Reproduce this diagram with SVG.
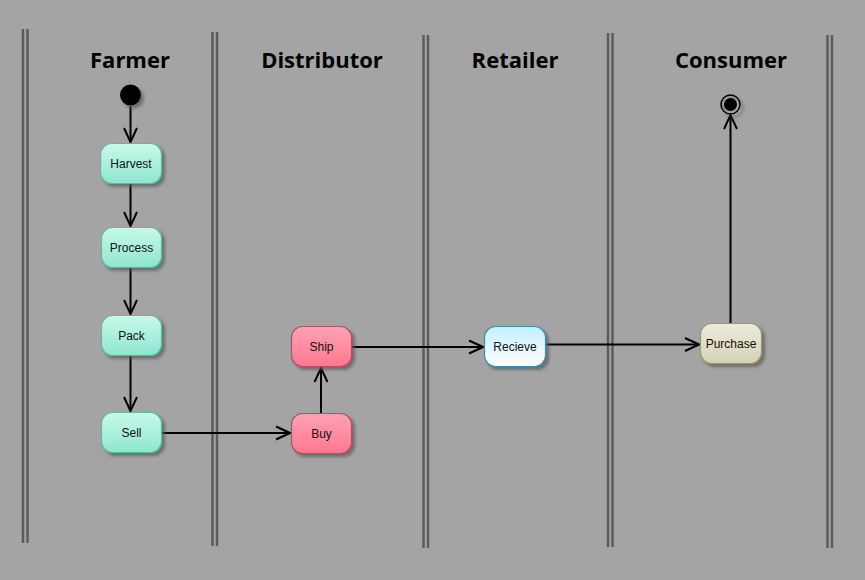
<svg xmlns="http://www.w3.org/2000/svg" width="865" height="580" viewBox="0 0 865 580">
<defs>
<style>
.lane{stroke:#5c5c5c;stroke-width:2.5;fill:none}
.title{font-family:"Open Sans","Noto Sans",sans-serif;font-weight:bold;font-size:22px;fill:#000;text-anchor:middle}
.lbl{font-family:"Liberation Sans",Arial,sans-serif;font-size:12px;fill:#111;text-anchor:middle}
.edge{stroke:#000;stroke-width:2;fill:none;marker-end:url(#arr)}
.farm{fill:url(#gGreen);stroke:#5fb8a0;stroke-width:1.2}
.dist{fill:url(#gPink);stroke:#b0506a;stroke-width:1.2}
.ret{fill:url(#gBlue);stroke:#3a90b0;stroke-width:1.2}
.cons{fill:url(#gTan);stroke:#9a9874;stroke-width:1.2}
</style>
<linearGradient id="gGreen" x1="0" y1="0" x2="0" y2="1"><stop offset="0" stop-color="#c8faea"/><stop offset="1" stop-color="#8ee6cf"/></linearGradient>
<linearGradient id="gPink" x1="0" y1="0" x2="0" y2="1"><stop offset="0" stop-color="#ffa2b2"/><stop offset="1" stop-color="#ff7890"/></linearGradient>
<linearGradient id="gBlue" x1="0" y1="0" x2="0" y2="1"><stop offset="0" stop-color="#c4eeff"/><stop offset="1" stop-color="#ffffff"/></linearGradient>
<linearGradient id="gTan" x1="0" y1="0" x2="0" y2="1"><stop offset="0" stop-color="#eeecda"/><stop offset="1" stop-color="#d4d1b4"/></linearGradient>
<filter id="sh" x="-20%" y="-20%" width="150%" height="150%"><feDropShadow dx="3" dy="3" stdDeviation="1.5" flood-color="#5a5a5a" flood-opacity="0.7"/></filter>
<marker id="arr" viewBox="0 0 16 16" refX="15" refY="8" markerWidth="16" markerHeight="16" markerUnits="userSpaceOnUse" orient="auto"><path d="M1,1.5 L15,8 L1,14.5" fill="none" stroke="#000" stroke-width="2"/></marker>
</defs>
<rect width="865" height="580" fill="#a4a4a4"/>
<g id="lanes">
<path class="lane" d="M23,29V543M27.5,29V543"/>
<path class="lane" d="M212.5,32V546M217,32V546"/>
<path class="lane" d="M423.5,35V548M428,35V548"/>
<path class="lane" d="M608,33V547M612.5,33V547"/>
<path class="lane" d="M827.5,35V548M832,35V548"/>
</g>
<g id="titles">
<text class="title" x="130" y="68">Farmer</text>
<text class="title" x="322" y="68">Distributor</text>
<text class="title" x="515" y="68">Retailer</text>
<text class="title" x="731" y="68">Consumer</text>
</g>
<g id="connectors">
<path class="edge" d="M130.5,106V142"/>
<path class="edge" d="M130.5,183V226"/>
<path class="edge" d="M130.5,268V314"/>
<path class="edge" d="M130.5,356V411"/>
<path class="edge" d="M161,433H290"/>
<path class="edge" d="M321,413V368"/>
<path class="edge" d="M352,347H483"/>
<path class="edge" d="M546,344.5H699"/>
<path class="edge" d="M730.5,323V115"/>
</g>
<g id="start"><circle cx="130.5" cy="95" r="10.5" fill="#000" filter="url(#sh)"/></g>
<g id="end"><circle cx="730.5" cy="104.5" r="9.5" fill="none" stroke="#000" stroke-width="1.5" filter="url(#sh)"/><circle cx="730.5" cy="104.5" r="6.5" fill="#000"/></g>
<g id="harvest"><rect class="farm" x="100.5" y="143.5" width="61" height="40" rx="11" filter="url(#sh)"/><text class="lbl" x="131" y="168">Harvest</text></g>
<g id="process"><rect class="farm" x="101.5" y="227.5" width="60" height="40" rx="11" filter="url(#sh)"/><text class="lbl" x="131.5" y="252">Process</text></g>
<g id="pack"><rect class="farm" x="101.5" y="315.5" width="60" height="40" rx="11" filter="url(#sh)"/><text class="lbl" x="131.5" y="340">Pack</text></g>
<g id="sell"><rect class="farm" x="101.5" y="412.5" width="60" height="40" rx="11" filter="url(#sh)"/><text class="lbl" x="131.5" y="437">Sell</text></g>
<g id="buy"><rect class="dist" x="291.5" y="413.5" width="60" height="40" rx="11" filter="url(#sh)"/><text class="lbl" x="321.5" y="438">Buy</text></g>
<g id="ship"><rect class="dist" x="291.5" y="326.5" width="60" height="40" rx="11" filter="url(#sh)"/><text class="lbl" x="321.5" y="351">Ship</text></g>
<g id="recieve"><rect class="ret" x="484.5" y="326.5" width="61" height="40" rx="11" filter="url(#sh)"/><text class="lbl" x="515" y="351">Recieve</text></g>
<g id="purchase"><rect class="cons" x="700.5" y="323.5" width="61" height="40" rx="11" filter="url(#sh)"/><text class="lbl" x="731" y="348">Purchase</text></g>
</svg>
